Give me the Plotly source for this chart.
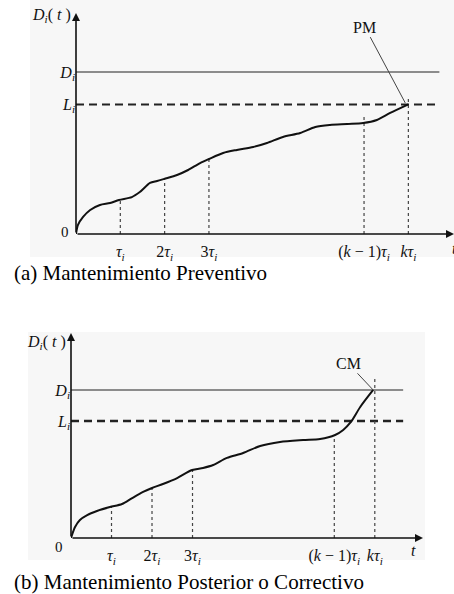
import plotly.graph_objects as go

# ---------------- data (time in units of tau_i, degradation in units of D_i) ----------------
tick_pos = [1, 2, 3, 6.5, 7.5]
tick_text = ["<i>τ</i><sub><i>i</i></sub>", "2<i>τ</i><sub><i>i</i></sub>", "3<i>τ</i><sub><i>i</i></sub>",
             "(<i>k</i> − 1)<i>τ</i><sub><i>i</i></sub>", "<i>kτ</i><sub><i>i</i></sub>"]
D_level = 1.0
L_level_a = 0.8
L_level_b = 0.79
threshold_end = 8.2

# panel (a): preventive maintenance – curve reaches L_i at k*tau
t_a = [0, 0.045, 0.16, 0.32, 0.54, 0.77, 0.97, 1.26, 1.44, 1.67, 1.83, 1.99, 2.28, 2.53, 2.80, 3.00,
       3.32, 3.63, 4.0, 4.31, 4.67, 5.06, 5.40, 5.73, 6.12, 6.48, 6.79, 7.09, 7.5]
d_a = [0, 0.056, 0.105, 0.148, 0.179, 0.191, 0.210, 0.228, 0.259, 0.315, 0.327, 0.340, 0.364, 0.395,
       0.438, 0.463, 0.500, 0.519, 0.537, 0.562, 0.599, 0.623, 0.660, 0.673, 0.679, 0.685, 0.704, 0.747, 0.8]
tops_a = [0.210, 0.340, 0.463, 0.722, 0.852]

# panel (b): corrective maintenance – curve reaches D_i at k*tau
t_b = [0, 0.10, 0.22, 0.40, 0.64, 0.96, 1.26, 1.51, 1.78, 2.0, 2.27, 2.62, 2.99, 3.26, 3.51, 3.85,
       4.25, 4.67, 5.16, 5.73, 6.15, 6.52, 6.72, 6.91, 7.14, 7.46]
d_b = [0, 0.074, 0.122, 0.155, 0.182, 0.209, 0.230, 0.270, 0.311, 0.338, 0.365, 0.405, 0.459, 0.473,
       0.493, 0.541, 0.574, 0.622, 0.649, 0.662, 0.669, 0.696, 0.730, 0.784, 0.885, 1.0]
tops_b = [0.209, 0.338, 0.459, 0.696, 1.095]

captions = ["(a) Mantenimiento Preventivo", "(b) Mantenimiento Posterior o Correctivo"]
event_labels = ["PM", "CM"]

SERIF = "Liberation Serif"
W, H = 454, 594

fig = go.Figure()

panels = [
    dict(xa="x", ya="y", t=t_a, d=d_a, tops=tops_a, L=L_level_a, xr=[0, 8.53], yr=[0, 1.364],
         xd=[76 / W, 1.0], yd=[1 - 234 / H, 1 - 13 / H], bg=(30, 0, 454, 257),
         label=event_labels[0], lab_xy=(6.52, 1.277), tip=(7.43, 0.809),
         cap=captions[0], cap_y=273, o_shift=(-5, 2), t_px=(454, 248), top_lab_y=15),
    dict(xa="x2", ya="y2", t=t_b, d=d_b, tops=tops_b, L=L_level_b, xr=[0, 8.69], yr=[0, 1.385],
         xd=[71 / W, 423 / W], yd=[1 - 538 / H, 1 - 333 / H], bg=(28, 332, 425, 560),
         label=event_labels[1], lab_xy=(6.84, 1.18), tip=(7.46, 1.0),
         cap=captions[1], cap_y=582, o_shift=(-6, -9), t_px=(413, 550), top_lab_y=342),
]

shapes = []
annotations = []
for i, p in enumerate(panels):
    xa, ya = p["xa"], p["ya"]
    # faint scanned background
    x0, y0, x1, y1 = p["bg"]
    shapes.append(dict(type="rect", xref="paper", yref="paper", x0=x0 / W, x1=x1 / W,
                       y0=1 - y1 / H, y1=1 - y0 / H, fillcolor="rgb(247,247,247)",
                       line=dict(width=0), layer="below"))
    # D_i solid threshold
    fig.add_trace(go.Scatter(x=[0, threshold_end], y=[D_level, D_level], mode="lines",
                             line=dict(color="#222", width=1.2), xaxis=xa, yaxis=ya, showlegend=False))
    # L_i dashed threshold
    fig.add_trace(go.Scatter(x=[0, threshold_end], y=[p["L"], p["L"]], mode="lines",
                             line=dict(color="#222", width=2 if i == 0 else 2.4, dash="8px,5px"),
                             xaxis=xa, yaxis=ya, showlegend=False))
    # dotted inspection lines
    vx, vy = [], []
    for tp, top in zip(tick_pos, p["tops"]):
        vx += [tp, tp, None]
        vy += [0, top, None]
    fig.add_trace(go.Scatter(x=vx, y=vy, mode="lines", line=dict(color="#444", width=1.2, dash="dot"),
                             xaxis=xa, yaxis=ya, showlegend=False))
    # degradation curve
    fig.add_trace(go.Scatter(x=p["t"], y=p["d"], mode="lines",
                             line=dict(color="#111", width=2, shape="spline", smoothing=0.8),
                             xaxis=xa, yaxis=ya, showlegend=False))
    # axes with arrows
    annotations.append(dict(x=p["xr"][1], y=0, ax=0, ay=0, xref=xa, yref=ya, axref=xa, ayref=ya,
                            text="", showarrow=True, arrowhead=2, arrowsize=1, arrowwidth=1.6,
                            arrowcolor="#111"))
    annotations.append(dict(x=0, y=p["yr"][1], ax=0, ay=0, xref=xa, yref=ya, axref=xa, ayref=ya,
                            text="", showarrow=True, arrowhead=2, arrowsize=1, arrowwidth=1.6,
                            arrowcolor="#111"))
    # axis titles
    annotations.append(dict(x=p["xd"][0] - 3 / W, y=1 - p["top_lab_y"] / H, xref="paper", yref="paper",
                            xanchor="right", yanchor="middle", showarrow=False,
                            text="<i>D</i><sub><i>i</i></sub>( <i>t</i> )",
                            font=dict(family=SERIF, size=16, color="#111")))
    annotations.append(dict(x=p["t_px"][0] / W, y=1 - p["t_px"][1] / H, xref="paper", yref="paper",
                            xanchor="center", yanchor="middle", showarrow=False, text="<i>t</i>",
                            font=dict(family=SERIF, size=16, color="#111")))
    annotations.append(dict(x=0, y=0, xref=xa, yref=ya, xanchor="right", yanchor="middle",
                            xshift=p["o_shift"][0], yshift=p["o_shift"][1], showarrow=False, text="0",
                            font=dict(family=SERIF, size=15, color="#111")))
    # event label with leader line
    annotations.append(dict(x=p["tip"][0], y=p["tip"][1], ax=p["lab_xy"][0], ay=p["lab_xy"][1],
                            xref=xa, yref=ya, axref=xa, ayref=ya, text=p["label"], showarrow=True,
                            arrowhead=0, arrowwidth=1, arrowcolor="#444",
                            font=dict(family=SERIF, size=16, color="#111")))
    # caption
    annotations.append(dict(x=12 / W, y=1 - p["cap_y"] / H, xref="paper", yref="paper",
                            xanchor="left", yanchor="middle", showarrow=False, text=p["cap"],
                            font=dict(family=SERIF, size=21, color="#000")))

tick_font = dict(family=SERIF, size=16, color="#111")
axis_common = dict(showgrid=False, zeroline=False, showline=False, tickfont=tick_font)
xtick_style = dict(ticks="outside", ticklen=3, tickcolor="rgba(0,0,0,0)")
fig.update_layout(
    width=W, height=H, margin=dict(l=0, r=0, t=0, b=0),
    paper_bgcolor="white", plot_bgcolor="rgba(0,0,0,0)",
    shapes=shapes, annotations=annotations,
    font=dict(family=SERIF, size=16, color="#111"),
    xaxis=dict(domain=panels[0]["xd"], range=panels[0]["xr"], anchor="y", tickvals=tick_pos,
               ticktext=tick_text, **xtick_style, **axis_common),
    yaxis=dict(domain=panels[0]["yd"], range=panels[0]["yr"], anchor="x", ticks="",
               tickvals=[L_level_a, D_level],
               ticktext=["<i>L</i><sub><i>i</i></sub>", "<i>D</i><sub><i>i</i></sub>"], **axis_common),
    xaxis2=dict(domain=panels[1]["xd"], range=panels[1]["xr"], anchor="y2", tickvals=tick_pos,
                ticktext=tick_text, **xtick_style, **axis_common),
    yaxis2=dict(domain=panels[1]["yd"], range=panels[1]["yr"], anchor="x2", ticks="",
                tickvals=[L_level_b, D_level],
                ticktext=["<i>L</i><sub><i>i</i></sub>", "<i>D</i><sub><i>i</i></sub>"], **axis_common),
)

fig.write_html("out.html", config={"displayModeBar": False, "staticPlot": True},
               post_script="document.body.style.margin='0px';document.body.style.overflow='hidden';")
